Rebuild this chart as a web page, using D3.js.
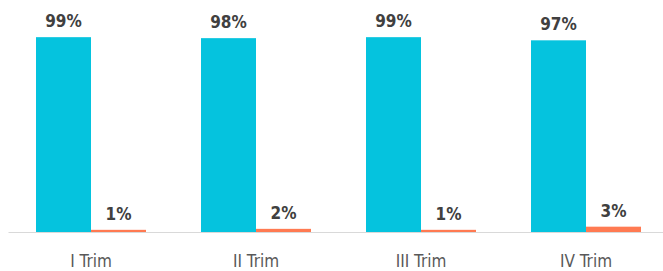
<!doctype html>
<html>
<head>
<meta charset="utf-8">
<script src="https://d3js.org/d3.v7.min.js"></script>
<style>
  body { margin: 0; background: #fff; }
  svg { display: block; }
  .val { font-family: "Liberation Sans Narrow", "Arial Narrow", "DejaVu Sans Condensed", sans-serif; font-weight: bold; font-size: 17px; fill: #404040; }
  .cat { font-family: "Liberation Sans Narrow", "Arial Narrow", "DejaVu Sans Condensed", sans-serif; font-size: 17px; fill: #595959; }
</style>
</head>
<body>
<svg width="663" height="271" id="chart"></svg>
<script>
  // data (labels show rounded values)
  var categories = ["I Trim", "II Trim", "III Trim", "IV Trim"];
  var seriesA = [98.9, 98.4, 98.9, 97.3];
  var seriesB = [1.1, 1.6, 1.1, 2.7];
  var colors = ["#05C3DE", "#FF7A52"];

  var svg = d3.select("#chart");
  var left = 8.5, right = 668.5, base = 232, plotTop = 35;

  var x0 = d3.scaleBand().domain(categories).range([left, right]).padding(0);
  var x1 = d3.scaleBand().domain([0, 1]).range([0, 110]);
  var y = d3.scaleLinear().domain([0, 100]).range([base, plotTop]);

  var g = svg.selectAll(".grp")
    .data(categories)
    .enter().append("g")
    .attr("transform", function(d) { return "translate(" + (x0(d) + x0.bandwidth() / 2 - 55) + ",0)"; });

  g.each(function(d, i) {
    var vals = [seriesA[i], seriesB[i]];
    var sel = d3.select(this);
    sel.selectAll("rect")
      .data(vals)
      .enter().append("rect")
      .attr("x", function(v, j) { return x1(j); })
      .attr("width", x1.bandwidth())
      .attr("y", function(v) { return y(v); })
      .attr("height", function(v) { return base - y(v); })
      .attr("fill", function(v, j) { return colors[j]; });
    sel.selectAll("text.val")
      .data(vals)
      .enter().append("text")
      .attr("class", "val")
      .attr("text-anchor", "middle")
      .attr("x", function(v, j) { return x1(j) + x1.bandwidth() / 2; })
      .attr("y", function(v) { return y(v) - 10; })
      .text(function(v) { return Math.round(v) + "%"; });
  });

  // baseline
  svg.append("line")
    .attr("x1", left).attr("x2", 663)
    .attr("y1", base + 0.5).attr("y2", base + 0.5)
    .attr("stroke", "#d9d9d9").attr("stroke-width", 1);

  svg.selectAll("text.cat")
    .data(categories)
    .enter().append("text")
    .attr("class", "cat")
    .attr("text-anchor", "middle")
    .attr("x", function(d) { return x0(d) + x0.bandwidth() / 2; })
    .attr("y", 267)
    .text(function(d) { return d; });
</script>
</body>
</html>
